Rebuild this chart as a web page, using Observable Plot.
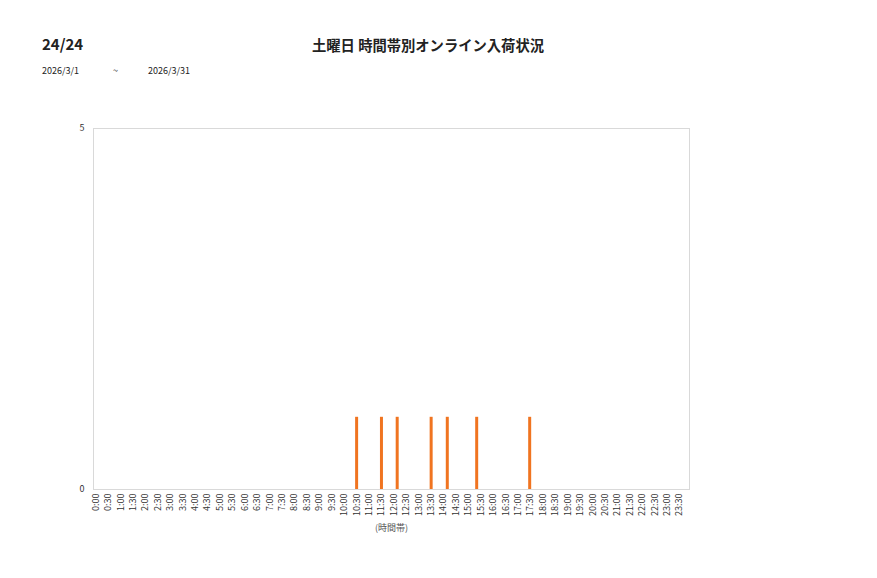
<!DOCTYPE html>
<html><head><meta charset="utf-8">
<script src="https://cdn.jsdelivr.net/npm/d3@7"></script>
<script src="https://cdn.jsdelivr.net/npm/@observablehq/plot@0.6"></script>
<style>
body{margin:0;background:#fff;font-family:"Noto Sans CJK JP","Noto Sans",sans-serif;}
#wrap{position:relative;width:877px;height:578px;}
.t{position:absolute;white-space:nowrap;color:#222;}
</style></head><body>
<div id="wrap">
<div class="t" style="left:42px;top:33px;font-size:15px;font-weight:bold;">24/24</div>
<div class="t" style="left:312px;top:34px;font-size:14.3px;font-weight:bold;">土曜日 時間帯別オンライン入荷状況</div>
<div class="t" style="left:42px;top:64px;font-size:9px;">2026/3/1</div>
<div class="t" style="left:113px;top:64px;font-size:9px;">~</div>
<div class="t" style="left:148px;top:64px;font-size:9px;">2026/3/31</div>
<div id="chart" style="position:absolute;left:0;top:0;"></div>
</div>
<script>
// tick labels (every 30 minutes)
const timeSlots = ["0:00","0:30","1:00","1:30","2:00","2:30","3:00","3:30","4:00","4:30","5:00","5:30","6:00","6:30","7:00","7:30","8:00","8:30","9:00","9:30","10:00","10:30","11:00","11:30","12:00","12:30","13:00","13:30","14:00","14:30","15:00","15:30","16:00","16:30","17:00","17:30","18:00","18:30","19:00","19:30","20:00","20:30","21:00","21:30","22:00","22:30","23:00","23:30"];
// arrivals (time of day) and counts
const arrivalTimes = ["10:30","11:30","12:08","13:30","14:09","15:20","17:28"];
const arrivalCounts = [1,1,1,1,1,1,1];
const yTicks = [0,5];

const toMin = s => { const [h,m] = s.split(":").map(Number); return h*60+m; };
const data = arrivalTimes.map((t,i)=>({minute:toMin(t),count:arrivalCounts[i]}));
const tickMinutes = timeSlots.map(toMin);
const labelOf = new Map(timeSlots.map(s=>[toMin(s),s]));

const chart = Plot.plot({
  width:877, height:578,
  marginLeft:93, marginRight:188, marginTop:128, marginBottom:89,
  style:{fontFamily:"'Noto Sans CJK JP','Noto Sans',sans-serif",fontSize:"9px",color:"#333",background:"transparent"},
  x:{type:"linear",domain:[-5.5,1434],label:null},
  y:{domain:[0,5],label:null},
  marks:[
    Plot.frame({stroke:"#d9d9d9"}),
    Plot.ruleX(data,{x:"minute",y1:0,y2:"count",stroke:"#f07420",strokeWidth:3}),
    Plot.axisY({ticks:yTicks,tickFormat:d=>String(d),tickSize:0,tickPadding:9,fontSize:9,label:null}),
    Plot.axisX({ticks:tickMinutes,tickFormat:m=>labelOf.get(m),tickSize:0,tickRotate:-90,tickPadding:4,fontSize:9,label:null}),
    Plot.text(["(時間帯)"],{frameAnchor:"bottom",dy:41,fontSize:9,fill:"#555"})
  ]
});
document.getElementById("chart").appendChild(chart);
</script>
</body></html>
